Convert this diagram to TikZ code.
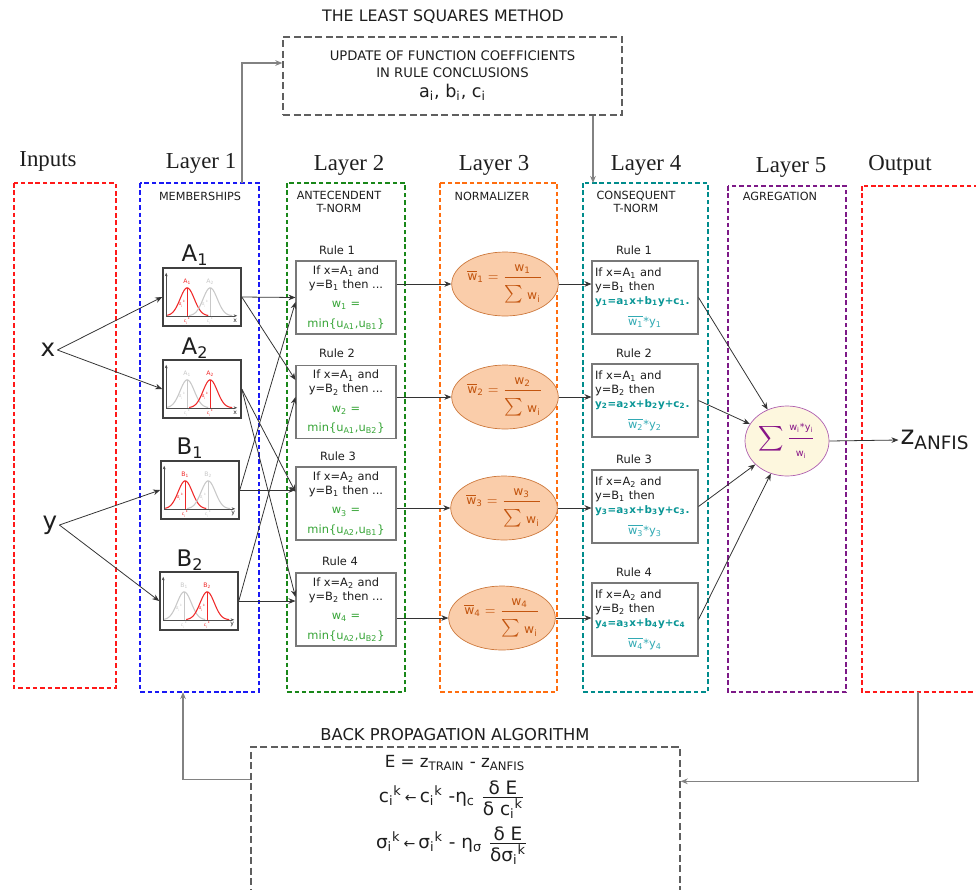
\documentclass[tikz,border=0pt]{standalone}
\usepackage{fontspec}
\setmainfont{DejaVu Sans}
\newfontfamily\lyrfont{Liberation Serif}
\usetikzlibrary{arrows.meta,shapes.geometric}

\definecolor{cred}{RGB}{255,25,25}
\definecolor{cblue}{RGB}{25,25,245}
\definecolor{cgreen}{RGB}{25,135,25}
\definecolor{corange}{RGB}{255,110,15}
\definecolor{cteal}{RGB}{0,140,140}
\definecolor{cpurple}{RGB}{125,25,135}
\definecolor{txtdark}{RGB}{30,30,30}
\definecolor{wgreen}{RGB}{55,165,55}
\definecolor{yteal}{RGB}{10,150,150}
\definecolor{wteal}{RGB}{50,170,180}
\definecolor{normfill}{RGB}{250,205,170}
\definecolor{normline}{RGB}{205,120,60}
\definecolor{normtxt}{RGB}{195,85,15}
\definecolor{sumfill}{RGB}{253,247,222}
\definecolor{sumline}{RGB}{175,95,175}
\definecolor{sumtxt}{RGB}{135,20,135}
\definecolor{boxgray}{RGB}{120,120,120}
\definecolor{dashgray}{RGB}{95,95,95}
\definecolor{fbgray}{RGB}{130,130,130}
\definecolor{mfred}{RGB}{240,40,40}
\definecolor{mflight}{RGB}{200,200,200}

\newcommand{\sumfont}{\fontsize{5.5}{6}\selectfont}
\newcommand{\normw}[1]{$\displaystyle\overline{\mbox{w}}\mbox{\textsubscript{#1}} = \frac{\mbox{w\textsubscript{#1}}}{\rule{0pt}{11.5pt}\mbox{\fontsize{12}{12}\selectfont$\sum$}\mbox{ w\textsubscript{i}}}$}
% small membership plot inside a layer 1 box
\newcommand{\mfplot}[6]{%
\begin{scope}[shift={(#1.south west)}]
\draw[mfaxis] (4,-11) -- (4,-54);\draw[mfaxis] (4,-11) -- (75,-11);
\draw[#2,line width=0.6pt] plot[domain=5:46,samples=30] (\x,{-11-28*exp(-((\x-25)/10)*((\x-25)/10))});
\draw[#3,line width=0.6pt] plot[domain=27:70,samples=30] (\x,{-11-28*exp(-((\x-48)/10)*((\x-48)/10))});
\draw[#2,line width=0.2pt] (25,-11) -- (25,-39);\draw[#3,line width=0.2pt] (48,-11) -- (48,-39);
\node[mftiny,text=#2] at (25,-45) {#4};\node[mftiny,text=#3] at (48,-45) {#5};
\node[mfmini,text=#2] at (20,-23) {σ\textsubscript{i}\textsuperscript{k}};\node[mfmini,text=#3] at (43,-23) {σ\textsubscript{i}\textsuperscript{k}};
\node[mfmini,text=#2] at (25,-6) {c\textsubscript{i}\textsuperscript{k}};\node[mfmini,text=#3] at (48,-6) {c\textsubscript{i}\textsuperscript{k}};
\node[mftiny] at (73,-6) {#6};
\end{scope}}

\begin{document}
\begin{tikzpicture}[x=0.02cm,y=-0.02cm,
  every node/.style={inner sep=1pt,text=txtdark},
  colbox/.style={line width=1.3pt,dash pattern=on 2.6pt off 1.6pt},
  layerlbl/.style={font=\lyrfont\fontsize{13}{15}\selectfont},
  sublbl/.style={font=\fontsize{6.4}{7.6}\selectfont,align=center},
  inlbl/.style={font=\fontsize{14}{16}\selectfont},
  mfbox/.style={draw=txtdark!85,line width=0.9pt,fill=white,minimum width=1.56cm,minimum height=1.16cm},
  mflbl/.style={font=\fontsize{13}{15}\selectfont},
  mfaxis/.style={draw=black!70,line width=0.3pt,-{Stealth[length=2pt,width=1.6pt]}},
  mftiny/.style={font=\fontsize{3.5}{4}\selectfont,inner sep=0pt},
  mfmini/.style={font=\fontsize{2.5}{3}\selectfont,inner sep=0pt},
  rulebox/.style={draw=boxgray,line width=0.6pt,fill=white,minimum width=2cm,minimum height=1.46cm,font=\fontsize{6.5}{8}\selectfont,align=center},
  conbox/.style={rulebox,minimum width=2.12cm,align=left,text width=2cm,inner xsep=1.7pt},
  rulelbl/.style={font=\fontsize{6.5}{8}\selectfont},
  normnode/.style={ellipse,draw=normline,fill=normfill,minimum width=1.58cm,minimum height=1.28cm,text=normtxt,font=\fontsize{7}{8}\selectfont,inner sep=0pt},
  sumnode/.style={ellipse,draw=sumline,fill=sumfill,minimum width=1.68cm,minimum height=1.4cm,text=sumtxt,font=\fontsize{11}{13}\selectfont,inner sep=0pt},
  dashbox/.style={draw=dashgray,line width=0.8pt,dash pattern=on 4pt off 2pt},
  titlefont/.style={font=\fontsize{9}{11}\selectfont},
  arr/.style={draw=black!80,line width=0.45pt,-{Stealth[length=4pt,width=3.2pt]}},
  fb/.style={arr,draw=fbgray,line width=0.6pt}]
\useasboundingbox (0,0) rectangle (976,889);

% layer frames
\draw[colbox,draw=cred] (14,183) rectangle (116,688);
\draw[colbox,draw=cblue] (140,183) rectangle (259,692);
\draw[colbox,draw=cgreen] (287,183) rectangle (405,692);
\draw[colbox,draw=corange] (440,183) rectangle (557,692);
\draw[colbox,draw=cteal] (583,183) rectangle (708,692);
\draw[colbox,draw=cpurple] (728,186) rectangle (846,692);
\draw[colbox,draw=cred] (862,186) rectangle (990,692);
\coordinate (l1top) at (242,183);\coordinate (l1bot) at (183,692);
\coordinate (l4top) at (593,183);\coordinate (outbot) at (918,692);

\node[layerlbl] (linp) at (48,161) {Inputs};\node[layerlbl] (lay1) at (201,163) {Layer 1};
\node[layerlbl] (lay2) at (349,165) {Layer 2};\node[layerlbl] (lay3) at (494,165) {Layer 3};
\node[layerlbl] (lay4) at (646,165) {Layer 4};\node[layerlbl] (lay5) at (791,167) {Layer 5};
\node[layerlbl] (lout) at (900,165) {Output};
\node[sublbl] (memb) at (200,196) {MEMBERSHIPS};\node[sublbl] (ante) at (339,202) {ANTECENDENT\\T-NORM};
\node[sublbl] (normz) at (492,196) {NORMALIZER};\node[sublbl] (cons) at (636,202) {CONSEQUENT\\T-NORM};
\node[sublbl] (agr) at (780,196) {AGREGATION};

% inputs and memberships
\node[inlbl] (inx) at (48,350) {x};\node[inlbl] (iny) at (50,525) {y};
\node[mfbox] (mfa1) at (202,297) {};\node[mfbox] (mfa2) at (202,389) {};
\node[mfbox] (mfb1) at (200,490) {};\node[mfbox] (mfb2) at (199,601) {};
\node[mflbl] (la1) at (195,255) {A\textsubscript{1}};\node[mflbl] (la2) at (195,348) {A\textsubscript{2}};
\node[mflbl] (lb1) at (190,448) {B\textsubscript{1}};\node[mflbl] (lb2) at (190,560) {B\textsubscript{2}};
\mfplot{mfa1}{mfred}{mflight}{A\textsubscript{1}}{A\textsubscript{2}}{x}
\mfplot{mfa2}{mflight}{mfred}{A\textsubscript{1}}{A\textsubscript{2}}{x}
\mfplot{mfb1}{mfred}{mflight}{B\textsubscript{1}}{B\textsubscript{2}}{y}
\mfplot{mfb2}{mflight}{mfred}{B\textsubscript{1}}{B\textsubscript{2}}{y}
\draw[arr] (inx.east) -- (mfa1.west);\draw[arr] (inx.east) -- (mfa2.west);
\draw[arr] (iny.east) -- (mfb1.west);\draw[arr] (iny.east) -- (mfb2.west);

% layer 2
\node[rulelbl] (r1l) at (337,250) {Rule 1};\node[rulelbl] (r2l) at (337,353) {Rule 2};
\node[rulelbl] (r3l) at (338,456) {Rule 3};\node[rulelbl] (r4l) at (340,561) {Rule 4};
\node[rulebox] (rule1) at (346,297.5) {If x=A\textsubscript{1} and\\y=B\textsubscript{1} then ...\\[3pt]\textcolor{wgreen}{w\textsubscript{1} =}\\[3pt]\textcolor{wgreen}{min\{u\textsubscript{A1},u\textsubscript{B1}\}}};
\node[rulebox] (rule2) at (346,402) {If x=A\textsubscript{1} and\\y=B\textsubscript{2} then ...\\[3pt]\textcolor{wgreen}{w\textsubscript{2} =}\\[3pt]\textcolor{wgreen}{min\{u\textsubscript{A1},u\textsubscript{B2}\}}};
\node[rulebox] (rule3) at (346,503.5) {If x=A\textsubscript{2} and\\y=B\textsubscript{1} then ...\\[3pt]\textcolor{wgreen}{w\textsubscript{3} =}\\[3pt]\textcolor{wgreen}{min\{u\textsubscript{A2},u\textsubscript{B1}\}}};
\node[rulebox] (rule4) at (346,609.5) {If x=A\textsubscript{2} and\\y=B\textsubscript{2} then ...\\[3pt]\textcolor{wgreen}{w\textsubscript{4} =}\\[3pt]\textcolor{wgreen}{min\{u\textsubscript{A2},u\textsubscript{B2}\}}};
\draw[arr] (mfa1.east) -- (rule1.west);\draw[arr] (mfa1.east) -- ([yshift=0.44cm]rule2.west);
\draw[arr] (mfa2.east) -- ([yshift=0.23cm]rule3.west);\draw[arr] (mfa2.east) -- ([yshift=0.25cm]rule4.west);
\draw[arr] (mfb1.east) -- (mfb1.east -| rule3.west);\draw[arr] (mfb1.east) -- ([yshift=-0.09cm]rule1.west);
\draw[arr] (mfb2.east) -- (mfb2.east -| rule4.west);\draw[arr] (mfb2.east) -- ([yshift=0.1cm]rule2.west);

% layer 3
\node[normnode] (norm1) at (505,284) {\normw{1}};\node[normnode] (norm2) at (505,397) {\normw{2}};
\node[normnode] (norm3) at (504,508) {\normw{3}};\node[normnode] (norm4) at (502,618) {\normw{4}};
\draw[arr] (rule1.east |- norm1.west) -- (norm1.west);\draw[arr] (rule2.east |- norm2.west) -- (norm2.west);
\draw[arr] (rule3.east |- norm3.west) -- (norm3.west);\draw[arr] (rule4.east |- norm4.west) -- (norm4.west);

% layer 4
\node[rulelbl] (c1l) at (634,250) {Rule 1};\node[rulelbl] (c2l) at (634,353) {Rule 2};
\node[rulelbl] (c3l) at (634,459) {Rule 3};\node[rulelbl] (c4l) at (634,572) {Rule 4};
\node[conbox] (cons1) at (645,297.5) {If x=A\textsubscript{1} and\\y=B\textsubscript{1} then\\{\bfseries\color{yteal}\fontsize{5.9}{8}\selectfont y\textsubscript{1}=a\textsubscript{1}x+b\textsubscript{1}y+c\textsubscript{1}.}\\[4pt]\makebox[\linewidth]{\color{wteal}$\overline{\mbox{w\textsubscript{1}}}$*y\textsubscript{1}}};
\node[conbox] (cons2) at (645,400.5) {If x=A\textsubscript{1} and\\y=B\textsubscript{2} then\\{\bfseries\color{yteal}\fontsize{5.9}{8}\selectfont y\textsubscript{2}=a\textsubscript{2}x+b\textsubscript{2}y+c\textsubscript{2}.}\\[4pt]\makebox[\linewidth]{\color{wteal}$\overline{\mbox{w\textsubscript{2}}}$*y\textsubscript{2}}};
\node[conbox] (cons3) at (645,506.5) {If x=A\textsubscript{2} and\\y=B\textsubscript{1} then\\{\bfseries\color{yteal}\fontsize{5.9}{8}\selectfont y\textsubscript{3}=a\textsubscript{3}x+b\textsubscript{3}y+c\textsubscript{3}.}\\[4pt]\makebox[\linewidth]{\color{wteal}$\overline{\mbox{w\textsubscript{3}}}$*y\textsubscript{3}}};
\node[conbox] (cons4) at (645,619.5) {If x=A\textsubscript{2} and\\y=B\textsubscript{2} then\\{\bfseries\color{yteal}\fontsize{5.9}{8}\selectfont y\textsubscript{4}=a\textsubscript{3}x+b\textsubscript{4}y+c\textsubscript{4}}\\[4pt]\makebox[\linewidth]{\color{wteal}$\overline{\mbox{w\textsubscript{4}}}$*y\textsubscript{4}}};
\draw[arr] (norm1.east) -- (norm1.east -| cons1.west);\draw[arr] (norm2.east) -- (norm2.east -| cons2.west);
\draw[arr] (norm3.east) -- (norm3.east -| cons3.west);\draw[arr] (norm4.east) -- (norm4.east -| cons4.west);

% layer 5 and output
\node[sumnode] (sum) at (787,441) {$\displaystyle\sum\frac{\mbox{\sumfont w\textsubscript{i}*y\textsubscript{i}}}{\mbox{\sumfont w\textsubscript{i}}}$};
\draw[arr] (cons1.east) -- (sum);\draw[arr] (cons2.east) -- (sum);
\draw[arr] (cons3.east) -- (sum);\draw[arr] (cons4.east) -- (sum);
\node[font=\fontsize{15}{17}\selectfont] (zout) at (935,440) {z\textsubscript{ANFIS}};
\draw[arr] (sum.east) -- (zout.west);

% least squares
\node[titlefont] (lsqt) at (443,17) {THE LEAST SQUARES METHOD};
\node[dashbox,minimum width=6.78cm,minimum height=1.56cm,align=center,font=\fontsize{7.5}{9.5}\selectfont] (lsq) at (452.5,76) {UPDATE OF FUNCTION COEFFICIENTS\\IN RULE CONCLUSIONS\\[2pt]{\fontsize{10}{12}\selectfont a\textsubscript{i}, b\textsubscript{i}, c\textsubscript{i}}};
\draw[fb] (l1top) |- ([yshift=0.26cm]lsq.west);
\draw[fb] (lsq.south -| l4top) -- (l4top);

% back propagation
\node[titlefont,font=\fontsize{9.3}{11}\selectfont] (bpt) at (455,735) {BACK PROPAGATION ALGORITHM};
\node[dashbox,minimum width=8.58cm,minimum height=3.2cm] (bp) at (465.5,827) {};
\node[font=\fontsize{9.5}{11}\selectfont] (err) at (455,763) {E = z\textsubscript{TRAIN} - z\textsubscript{ANFIS}};
\node[font=\fontsize{10.5}{12}\selectfont] (cupd) at (452,800) {c\textsubscript{i}\textsuperscript{k}\,{\fontsize{8}{9}\selectfont ←}\,c\textsubscript{i}\textsuperscript{k} -η\textsubscript{c} $\frac{\mbox{δ E}}{\mbox{δ c\textsubscript{i}\textsuperscript{k}}}$};
\node[font=\fontsize{10.5}{12}\selectfont] (supd) at (452,846) {σ\textsubscript{i}\textsuperscript{k}\,{\fontsize{8}{9}\selectfont ←}\,σ\textsubscript{i}\textsuperscript{k} - η\textsubscript{σ} $\frac{\mbox{δ E}}{\mbox{δσ\textsubscript{i}\textsuperscript{k}}}$};
\draw[fb] (outbot) |- ([yshift=-0.7cm]bp.north east);
\draw[fb] ([yshift=-0.66cm]bp.north west) -| (l1bot);
\end{tikzpicture}
\end{document}
